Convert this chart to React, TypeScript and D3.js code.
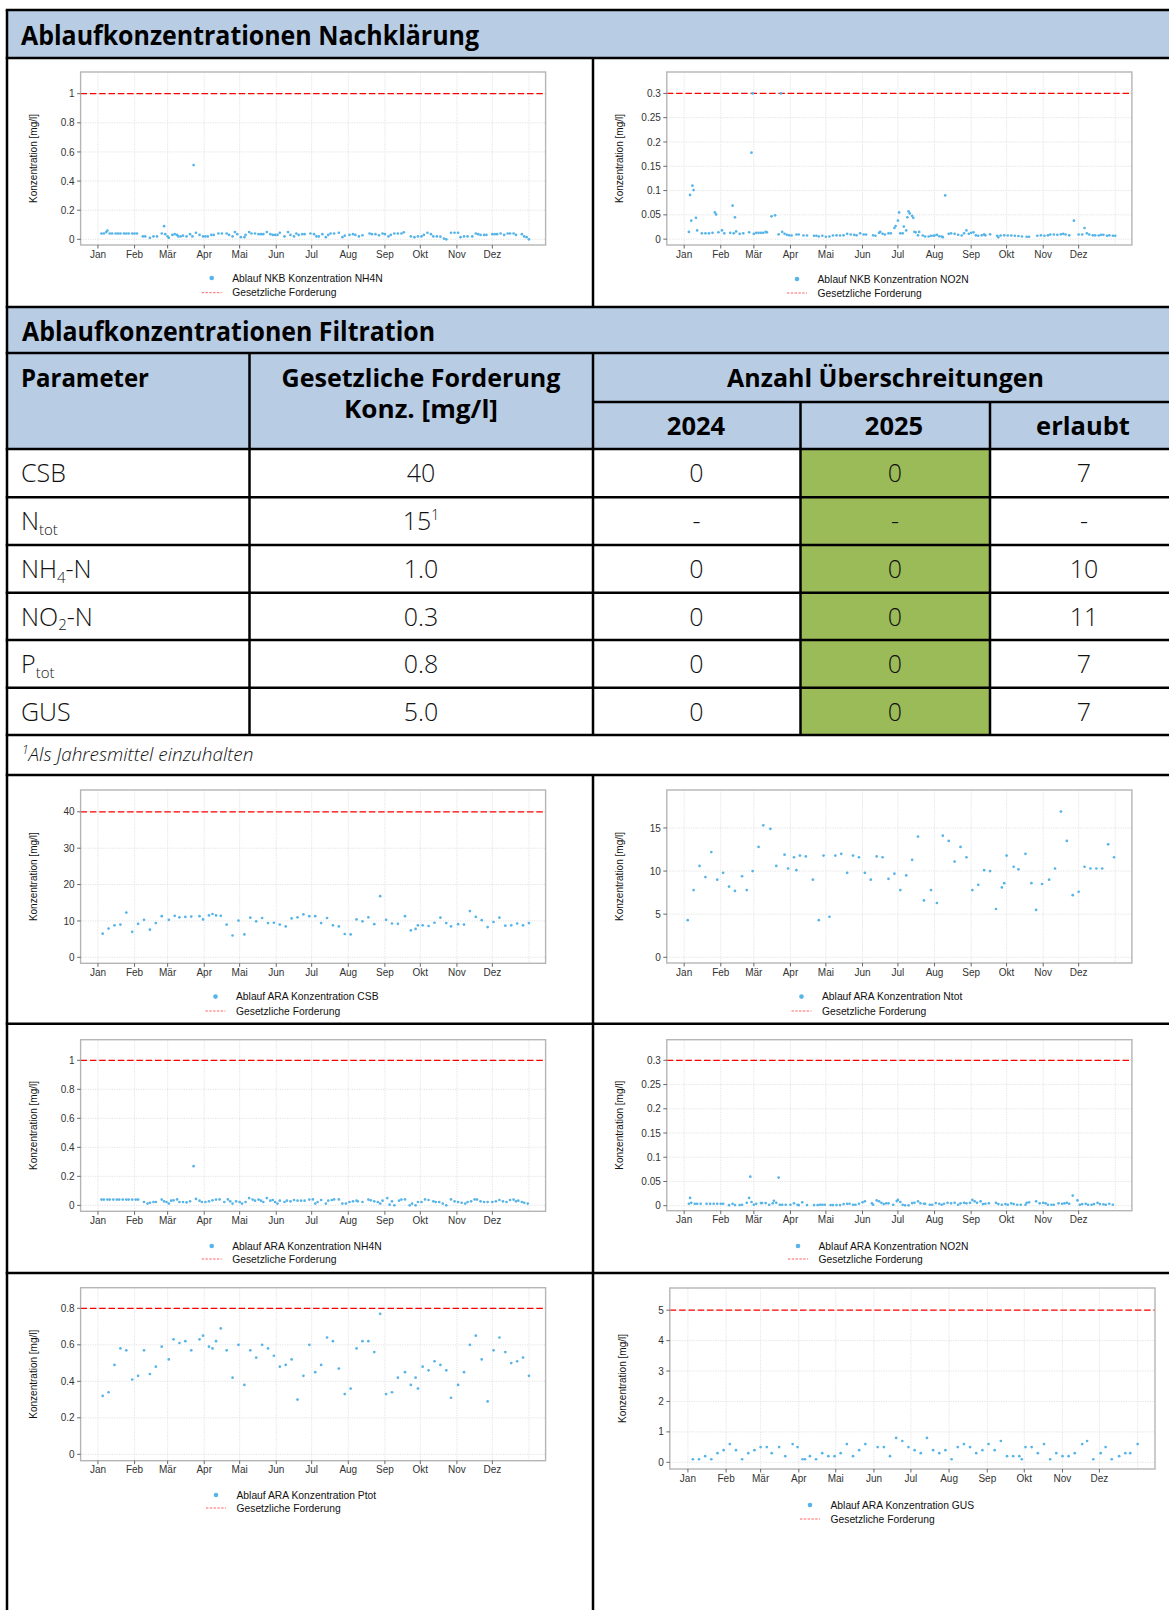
import React from "react";
import * as d3 from "d3";

// ---------- DATA ----------
const monthLabels = ["Jan", "Feb", "Mär", "Apr", "Mai", "Jun", "Jul", "Aug", "Sep", "Okt", "Nov", "Dez"];

// [day of year 2025 (0 = 1 Jan), concentration mg/l]
const nkbNH4: [number, number][] = [
  [3,0.04],[5,0.04],[7,0.05],[8,0.06],[10,0.04],[12,0.04],[15,0.04],[17,0.04],[19,0.04],[22,0.04],[24,0.04],[26,0.04],[29,0.04],[31,0.04],[33,0.04],
  [38,0.02],[40,0.02],[44,0.01],[47,0.02],[50,0.02],[54,0.04],[56,0.09],[57,0.035],[59,0.02],[60,0.01],[63,0.03],[65,0.035],[67,0.03],[68,0.02],
  [70,0.02],[72,0.025],[75,0.02],[78,0.035],[80,0.02],[81,0.51],[83,0.045],[86,0.03],[89,0.02],[91,0.02],[93,0.02],[96,0.03],[98,0.03],[102,0.04],
  [105,0.04],[109,0.04],[111,0.03],[114,0.02],[116,0.05],[118,0.035],[121,0.015],[124,0.015],[125,0.03],[128,0.05],[130,0.04],[133,0.04],[136,0.035],
  [138,0.035],[140,0.035],[143,0.05],[146,0.035],[148,0.03],[150,0.03],[152,0.03],[154,0.045],[158,0.02],[161,0.05],[163,0.03],[166,0.02],[168,0.04],
  [170,0.03],[173,0.035],[175,0.035],[180,0.04],[183,0.035],[185,0.02],[187,0.02],[190,0.035],[193,0.015],[195,0.03],[197,0.04],[200,0.04],[204,0.045],
  [207,0.015],[209,0.025],[213,0.03],[216,0.035],[218,0.03],[221,0.02],[224,0.028],[230,0.04],[232,0.035],[235,0.035],[238,0.028],[241,0.04],[243,0.035],
  [246,0.02],[248,0.03],[251,0.04],[254,0.04],[257,0.04],[259,0.048],[265,0.02],[268,0.015],[271,0.02],[274,0.02],[276,0.03],[279,0.045],[282,0.035],
  [284,0.02],[287,0.02],[290,0.018],[293,0.005],[295,0],[299,0.045],[302,0.045],[305,0.045],[307,0.015],[310,0.02],[313,0.02],[317,0.02],[320,0.04],
  [322,0.035],[324,0.03],[327,0.03],[329,0.03],[334,0.035],[336,0.035],[338,0.035],[341,0.04],[344,0.03],[347,0.04],[349,0.04],[352,0.04],[354,0.03],
  [359,0.035],[361,0.02],[363,0.015],[365,0],
];

const nkbNO2: [number, number][] = [
  [4,0.015],[5,0.091],[6,0.038],[7,0.11],[8,0.101],[10,0.044],[11,0.018],[15,0.012],[18,0.012],[21,0.012],[24,0.013],[26,0.055],[27,0.051],[29,0.014],
  [32,0.018],[34,0.012],[39,0.013],[41,0.069],[42,0.012],[43,0.045],[44,0.016],[47,0.011],[50,0.012],[55,0.014],[57,0.178],[58,0.3],[59,0.011],[61,0.013],
  [63,0.013],[65,0.013],[67,0.013],[69,0.015],[70,0.014],[74,0.047],[77,0.049],[80,0.01],[82,0.3],[83,0.015],[85,0.011],[87,0.009],[89,0.008],[91,0.0075],
  [95,0.0096],[97,0.0096],[101,0.0075],[104,0.0075],[110,0.007],[112,0.007],[114,0.0055],[117,0.007],[120,0.005],[123,0.0055],[126,0.0075],[129,0.008],
  [132,0.0075],[135,0.008],[138,0.011],[141,0.0096],[144,0.009],[146,0.008],[149,0.012],[152,0.0096],[154,0.0096],[160,0.008],[162,0.007],[165,0.013],
  [166,0.015],[168,0.011],[170,0.0096],[173,0.012],[175,0.012],[178,0.023],[179,0.027],[181,0.038],[182,0.055],[183,0.012],[185,0.012],[186,0.026],
  [188,0.018],[189,0.045],[190,0.057],[191,0.053],[193,0.048],[194,0.044],[195,0.015],[196,0.014],[198,0.008],[199,0.015],[202,0.0075],[204,0.0055],
  [207,0.0055],[209,0.007],[211,0.007],[212,0.0075],[214,0.009],[216,0.006],[218,0.0055],[219,0.004],[221,0.09],[224,0.011],[226,0.012],[229,0.011],
  [232,0.009],[235,0.0075],[237,0.012],[239,0.018],[241,0.011],[243,0.013],[245,0.014],[247,0.008],[249,0.007],[252,0.008],[254,0.01],[255,0.008],
  [259,0.01],[265,0.007],[266,0.004],[268,0.0075],[271,0.008],[274,0.0075],[277,0.0075],[280,0.007],[283,0.0065],[286,0.0055],[290,0.005],[292,0.005],
  [299,0.007],[302,0.008],[305,0.007],[308,0.008],[310,0.0096],[313,0.0096],[316,0.009],[319,0.01],[321,0.011],[323,0.0096],[326,0.008],[330,0.038],
  [334,0.0096],[337,0.0096],[339,0.023],[341,0.012],[343,0.0096],[346,0.008],[348,0.008],[351,0.0075],[353,0.009],[355,0.009],[358,0.007],[360,0.008],
  [363,0.007],[365,0.007],
];

const araCSB: [number, number][] = [
  [4,6.5],[9,7.9],[14,8.8],[19,9.0],[24,12.3],[29,7.0],[34,9.2],[39,10.3],[44,7.6],[49,9.4],[54,11.3],[60,10.3],[65,11.4],[69,11.0],[74,11.1],[79,11.2],
  [86,11.3],[89,10.4],[94,11.5],[97,11.9],[100,11.5],[104,11.4],[109,9.0],[114,6.0],[119,10.1],[124,6.3],[129,10.9],[134,9.9],[139,10.8],[144,9.4],
  [149,9.5],[154,9.0],[159,8.5],[164,10.7],[169,11.0],[174,11.8],[179,11.3],[184,11.3],[189,9.4],[194,10.8],[199,8.8],[204,8.5],[209,6.4],[214,6.3],
  [219,10.4],[224,9.9],[229,11.0],[234,9.1],[239,16.8],[244,10.3],[249,9.3],[254,9.2],[260,11.3],[265,7.4],[269,7.8],[271,8.8],[275,8.8],[280,8.6],
  [285,9.5],[290,10.9],[295,9.4],[299,8.5],[305,9.1],[310,9.0],[315,12.7],[320,11.1],[325,10.2],[330,8.3],[335,9.7],[340,10.9],[345,8.7],[350,8.8],
  [355,9.3],[360,8.8],[365,9.4],
];

const araNtot: [number, number][] = [
  [3,4.3],[8,7.8],[13,10.6],[18,9.3],[23,12.2],[28,9.0],[33,9.8],[38,8.2],[43,7.7],[49,9.4],[53,7.8],[58,10.0],[63,12.8],[67,15.3],[73,14.9],[78,10.6],
  [85,11.9],[88,10.3],[93,11.6],[95,10.1],[98,11.8],[103,11.7],[109,9.0],[114,4.3],[118,11.8],[123,4.7],[128,11.8],[133,12.0],[138,9.8],[143,11.8],
  [148,11.6],[153,9.8],[158,9.0],[163,11.7],[168,11.6],[173,9.1],[178,9.7],[183,7.8],[188,9.5],[193,11.3],[198,14.0],[203,6.6],[209,7.8],[214,6.3],
  [219,14.1],[224,13.5],[229,11.1],[234,12.8],[239,11.6],[244,7.8],[249,8.4],[254,10.1],[259,10.0],[264,5.6],[269,8.1],[271,8.6],[273,11.8],[279,10.5],
  [283,10.2],[289,12.0],[294,8.6],[298,5.5],[303,8.5],[309,9.0],[314,10.3],[319,16.9],[324,13.5],[329,7.2],[334,7.6],[339,10.5],[344,10.3],[349,10.3],
  [354,10.3],[359,13.1],[364,11.6],
];

const araNH4: [number, number][] = [
  [3,0.04],[5,0.04],[8,0.04],[10,0.04],[13,0.04],[16,0.04],[18,0.04],[21,0.04],[24,0.04],[26,0.04],[29,0.04],[32,0.04],[34,0.04],
  [39,0.023],[42,0.012],[44,0.018],[47,0.023],[49,0.023],[54,0.04],[56,0.028],[58,0.023],[60,0.012],[62,0.032],[64,0.035],[67,0.041],[69,0.023],
  [72,0.023],[75,0.02],[78,0.028],[81,0.27],[83,0.044],[86,0.032],[88,0.023],[91,0.023],[94,0.028],[97,0.035],[100,0.04],[103,0.041],[107,0.023],
  [110,0.041],[112,0.028],[114,0.012],[117,0.028],[120,0.023],[122,0.012],[125,0.023],[128,0.05],[131,0.04],[133,0.032],[136,0.04],[138,0.032],
  [140,0.023],[143,0.05],[146,0.032],[148,0.037],[150,0.023],[152,0.012],[154,0.032],[158,0.023],[160,0.032],[163,0.028],[166,0.037],[169,0.032],
  [172,0.032],[175,0.032],[179,0.04],[182,0.041],[184,0.012],[186,0.023],[189,0.037],[193,0.012],[195,0.032],[198,0.037],[200,0.041],[204,0.041],
  [207,0.012],[210,0.012],[213,0.023],[216,0.028],[219,0.032],[220,0.028],[224,0.023],[229,0.04],[231,0.035],[234,0.028],[237,0.023],[239,0.012],
  [241,0.032],[245,0.05],[247,0.005],[249,0.028],[251,0],[255,0.032],[257,0.04],[260,0.041],[264,0],[266,0.012],[269,0],[271,0.023],[274,0.023],
  [277,0.041],[280,0.037],[284,0.028],[286,0.023],[289,0.023],[292,0.012],[295,0],[299,0.041],[302,0.028],[305,0.023],[308,0.018],[311,0.012],
  [313,0.023],[316,0.028],[319,0.041],[321,0.04],[324,0.028],[327,0.023],[330,0.023],[334,0.023],[337,0.028],[340,0.037],[343,0.028],[346,0.023],
  [349,0.037],[352,0.04],[354,0.028],[356,0.032],[359,0.023],[361,0.018],[364,0.012],
];

const araNO2: [number, number][] = [
  [4,0.004],[5,0.016],[6,0.006],[9,0.004],[11,0.004],[14,0.004],[19,0.004],[22,0.004],[25,0.004],[28,0.004],[31,0.004],[33,0.004],[38,0.001],[41,0.004],
  [43,0.0014],[47,0.0014],[49,0.002],[53,0.006],[55,0.016],[56,0.06],[57,0.0076],[59,0.002],[61,0.004],[65,0.0055],[66,0.0055],[69,0.0055],[72,0.002],
  [75,0.005],[76,0.01],[78,0.006],[80,0.058],[81,0.002],[83,0.002],[86,0.002],[90,0.002],[93,0.005],[96,0.002],[97,0.001],[100,0.007],[104,0.0014],
  [110,0.0014],[113,0.0014],[115,0.002],[117,0.002],[119,0.002],[124,0.0014],[126,0.0014],[129,0.0014],[132,0.0014],[135,0.0034],[138,0.004],[140,0.004],
  [143,0.002],[145,0.002],[148,0.004],[151,0.007],[153,0.009],[159,0.005],[160,0.002],[163,0.011],[165,0.009],[167,0.006],[169,0.0034],[171,0.005],
  [173,0.005],[177,0.002],[180,0.0096],[181,0.012],[183,0.0076],[185,0.002],[187,0.0007],[190,0.0007],[193,0.0055],[195,0.006],[198,0.009],[200,0.005],
  [203,0.004],[204,0.004],[208,0.002],[210,0.002],[213,0.0055],[216,0.004],[218,0.002],[220,0.004],[223,0.006],[226,0.005],[229,0.006],[232,0.002],
  [234,0.005],[237,0.006],[239,0.005],[242,0.006],[244,0.012],[246,0.009],[248,0.006],[251,0.009],[253,0.0034],[255,0.004],[258,0.005],[264,0.006],
  [266,0.0034],[269,0.002],[272,0.0034],[274,0.002],[277,0.005],[279,0.0034],[282,0.002],[285,0.002],[289,0.002],[290,0.006],[292,0.007],[298,0.009],
  [301,0.005],[304,0.006],[306,0.005],[308,0.002],[311,0.002],[313,0.002],[317,0.005],[320,0.004],[322,0.005],[324,0.006],[326,0.004],[329,0.021],
  [333,0.011],[335,0.002],[337,0.0034],[340,0.004],[342,0.002],[345,0.002],[347,0.0034],[350,0.006],[352,0.0034],[355,0.003],[357,0.002],[360,0.004],
  [363,0.002],
];

const araPtot: [number, number][] = [
  [4,0.32],[9,0.34],[14,0.49],[19,0.58],[24,0.57],[29,0.41],[34,0.43],[39,0.57],[44,0.44],[49,0.48],[54,0.59],[60,0.52],[64,0.63],[69,0.61],[74,0.62],
  [79,0.57],[86,0.63],[89,0.65],[94,0.59],[97,0.58],[100,0.62],[104,0.69],[109,0.57],[114,0.42],[119,0.60],[124,0.38],[129,0.57],[134,0.53],[139,0.60],
  [144,0.58],[149,0.54],[154,0.48],[159,0.49],[164,0.52],[169,0.30],[174,0.43],[179,0.60],[184,0.45],[189,0.49],[194,0.64],[199,0.62],[204,0.47],
  [209,0.33],[214,0.36],[219,0.58],[224,0.62],[229,0.62],[234,0.56],[239,0.77],[244,0.33],[249,0.34],[254,0.42],[260,0.45],[265,0.38],[269,0.42],
  [271,0.36],[275,0.48],[280,0.46],[285,0.51],[290,0.49],[295,0.46],[299,0.31],[305,0.38],[310,0.45],[315,0.60],[320,0.65],[325,0.52],[330,0.29],
  [335,0.57],[340,0.64],[345,0.56],[350,0.50],[355,0.51],[360,0.53],[365,0.43],
];

const araGUS: [number, number][] = [
  [4,0.1],[9,0.1],[14,0.2],[19,0.1],[24,0.3],[29,0.4],[34,0.6],[39,0.4],[44,0.1],[49,0.3],[54,0.4],[59,0.5],[64,0.5],[68,0.3],[74,0.5],[79,0.2],
  [85,0.6],[89,0.5],[93,0.1],[95,0.1],[99,0.2],[104,0.1],[109,0.3],[114,0.2],[119,0.2],[124,0.3],[129,0.6],[134,0.2],[139,0.4],[144,0.6],[154,0.5],
  [159,0.5],[164,0.2],[169,0.8],[174,0.7],[179,0.5],[184,0.4],[189,0.3],[194,0.8],[199,0.4],[204,0.3],[209,0.4],[214,0.1],[219,0.5],[224,0.6],[229,0.5],
  [234,0.3],[239,0.4],[244,0.6],[249,0.4],[254,0.7],[259,0.2],[264,0.2],[269,0.2],[271,0.1],[274,0.5],[279,0.5],[284,0.3],[289,0.6],[294,0.1],[299,0.3],
  [304,0.2],[309,0.2],[314,0.3],[320,0.6],[324,0.7],[329,0.1],[335,0.3],[339,0.5],[344,0.1],[350,0.2],[355,0.3],[359,0.3],[365,0.6],
];

const ticksNH4 = [0, 0.2, 0.4, 0.6, 0.8, 1];
const ticksNO2 = [0, 0.05, 0.1, 0.15, 0.2, 0.25, 0.3];
const ticksCSB = [0, 10, 20, 30, 40];
const ticksNtot = [0, 5, 10, 15];
const ticksPtot = [0, 0.2, 0.4, 0.6, 0.8];
const ticksGUS = [0, 1, 2, 3, 4, 5];

// table
const paramMain = ["CSB", "N", "NH", "NO", "P", "GUS"];
const paramSub = ["", "tot", "4", "2", "tot", ""];
const paramRest = ["", "", "-N", "-N", "", ""];
const limitText = ["40", "15", "1.0", "0.3", "0.8", "5.0"];
const limitSup = ["", "1", "", "", "", ""];
const exceed2024 = ["0", "-", "0", "0", "0", "0"];
const exceed2025 = ["0", "-", "0", "0", "0", "0"];
const allowed = ["7", "-", "10", "11", "7", "7"];

// ---------- STYLE ----------
const BAND = "#B8CCE4";
const GREEN = "#9BBB59";
const PT = "#56B4E9";
const TFONT = "'Open Sans', 'Noto Sans', sans-serif";
const CFONT = "'Liberation Sans', Arial, sans-serif";

type Spec = {
  data: [number, number][];
  panel: { x0: number; x1: number; y0: number; y1: number };
  yDomain: [number, number];
  yTicks: number[];
  threshold: number | null;
  label: string;
  keyX: number;
  ly1: number;
  ly2: number;
};

const JAN1 = new Date(2025, 0, 1).getTime();
const DAY = 864e5;
const toDate = (d: number) => new Date(JAN1 + d * DAY);

function Chart({ s }: { s: Spec }) {
  const { x0, x1, y0, y1 } = s.panel;
  const x = d3.scaleTime().domain([toDate(-14.7), toDate(379.1)]).range([x0, x1]);
  const y = d3.scaleLinear().domain(s.yDomain).range([y1, y0]);
  const months = d3.timeMonth.range(new Date(2025, 0, 1), new Date(2026, 0, 2));
  const fmt = (v: number) => String(+v.toFixed(2));
  return (
    <g>
      <rect x={x0} y={y0} width={x1 - x0} height={y1 - y0} fill="#fff" />
      {months.map((m, i) => (
        <line key={"gv" + i} x1={x(m)} x2={x(m)} y1={y0} y2={y1} stroke="#DCDCDC" strokeWidth={0.8} strokeDasharray="1.2,1.2" />
      ))}
      {s.yTicks.map((t, i) => (
        <line key={"gh" + i} x1={x0} x2={x1} y1={y(t)} y2={y(t)} stroke="#DCDCDC" strokeWidth={0.8} strokeDasharray="1.2,1.2" />
      ))}
      {s.threshold !== null && (
        <line x1={x0} x2={x1} y1={y(s.threshold)} y2={y(s.threshold)} stroke="#FF0000" strokeWidth={1.3} strokeDasharray="6.5,2.8" />
      )}
      {s.data.map((d, i) => (
        <circle key={"p" + i} cx={x(toDate(d[0]))} cy={y(d[1])} r={1.35} fill={PT} />
      ))}
      <rect x={x0} y={y0} width={x1 - x0} height={y1 - y0} fill="none" stroke="#B5B5B5" strokeWidth={1.4} />
      {/* y axis */}
      {s.yTicks.map((t, i) => (
        <g key={"yt" + i}>
          <line x1={x0 - 3.5} x2={x0} y1={y(t)} y2={y(t)} stroke="#444" strokeWidth={0.8} />
          <text x={x0 - 6} y={y(t) + 3.6} textAnchor="end" fontFamily={CFONT} fontSize={10} fill="#333">
            {fmt(t)}
          </text>
        </g>
      ))}
      <text
        transform={`translate(${x0 - 44},${(y0 + y1) / 2}) rotate(-90)`}
        textAnchor="middle"
        fontFamily={CFONT}
        fontSize={10}
        fill="#111"
      >
        Konzentration [mg/l]
      </text>
      {/* x axis */}
      {months.slice(0, 12).map((m, i) => (
        <g key={"xt" + i}>
          <line x1={x(m)} x2={x(m)} y1={y1} y2={y1 + 3.5} stroke="#444" strokeWidth={0.8} />
          <text x={x(m)} y={y1 + 12.5} textAnchor="middle" fontFamily={CFONT} fontSize={10} fill="#333">
            {monthLabels[i]}
          </text>
        </g>
      ))}
      {/* legend */}
      <circle cx={s.keyX + 10} cy={s.ly1} r={2.3} fill={PT} />
      <text x={s.keyX + 30.5} y={s.ly1 + 3.6} fontFamily={CFONT} fontSize={10.3} fill="#111">
        {s.label}
      </text>
      <line x1={s.keyX} x2={s.keyX + 20} y1={s.ly2} y2={s.ly2} stroke="#FF5050" strokeWidth={0.9} strokeDasharray="2.4,1.4" />
      <text x={s.keyX + 30.5} y={s.ly2 + 3.6} fontFamily={CFONT} fontSize={10.3} fill="#111">
        Gesetzliche Forderung
      </text>
    </g>
  );
}

const L = { x0: 80.6, x1: 545.6 };
const R = { x0: 666.8, x1: 1131.9 };

const specs: Spec[] = [
  { data: nkbNH4, panel: { ...L, y0: 72, y1: 245 }, yDomain: [-0.039, 1.149], yTicks: ticksNH4, threshold: 1, label: "Ablauf NKB Konzentration NH4N", keyX: 201.7, ly1: 278, ly2: 292.7 },
  { data: nkbNO2, panel: { ...R, y0: 72, y1: 245 }, yDomain: [-0.012, 0.344], yTicks: ticksNO2, threshold: 0.3, label: "Ablauf NKB Konzentration NO2N", keyX: 787, ly1: 279, ly2: 293 },
  { data: araCSB, panel: { ...L, y0: 790, y1: 963.3 }, yDomain: [-1.65, 46], yTicks: ticksCSB, threshold: 40, label: "Ablauf ARA Konzentration CSB", keyX: 205.5, ly1: 996.6, ly2: 1011 },
  { data: araNtot, panel: { ...R, y0: 790, y1: 963 }, yDomain: [-0.66, 19.4], yTicks: ticksNtot, threshold: null, label: "Ablauf ARA Konzentration Ntot", keyX: 791.5, ly1: 996.6, ly2: 1011 },
  { data: araNH4, panel: { ...L, y0: 1039.7, y1: 1211.3 }, yDomain: [-0.041, 1.142], yTicks: ticksNH4, threshold: 1, label: "Ablauf ARA Konzentration NH4N", keyX: 201.7, ly1: 1246, ly2: 1259 },
  { data: araNO2, panel: { ...R, y0: 1039.7, y1: 1210.7 }, yDomain: [-0.0103, 0.3425], yTicks: ticksNO2, threshold: 0.3, label: "Ablauf ARA Konzentration NO2N", keyX: 788, ly1: 1246, ly2: 1259 },
  { data: araPtot, panel: { ...L, y0: 1287.7, y1: 1460.7 }, yDomain: [-0.035, 0.913], yTicks: ticksPtot, threshold: 0.8, label: "Ablauf ARA Konzentration Ptot", keyX: 206, ly1: 1495, ly2: 1508 },
  { data: araGUS, panel: { x0: 669.8, x1: 1155, y0: 1288, y1: 1469 }, yDomain: [-0.22, 5.73], yTicks: ticksGUS, threshold: 5, label: "Ablauf ARA Konzentration GUS", keyX: 800, ly1: 1505, ly2: 1519 },
];

// table geometry
const LX = 7;
const RX = 1169;
const colX = [7, 249.5, 593, 800.5, 990];
const rowY = [449, 497.3, 545, 592.7, 640, 687.7, 735];
const colCenter = [421, 696.5, 895, 1084];

export default function App() {
  const bodyStyle = { fontFamily: TFONT, fontWeight: 300, fontSize: 25, fill: "#111" } as const;
  const headStyle = { fontFamily: TFONT, fontWeight: 700, fontSize: 25.5, fill: "#000" } as const;
  const LW = 2.5;
  return (
    <svg width={1169} height={1610} style={{ position: "absolute", left: 0, top: 0, display: "block", background: "#fff" }}>
      {/* bands */}
      <rect x={LX} y={10} width={RX - LX} height={48} fill={BAND} />
      <rect x={LX} y={307} width={RX - LX} height={46} fill={BAND} />
      <rect x={LX} y={353} width={RX - LX} height={96} fill={BAND} />
      <rect x={colX[3]} y={rowY[0]} width={colX[4] - colX[3]} height={rowY[6] - rowY[0]} fill={GREEN} />

      {/* section titles */}
      <text x={21} y={44.5} {...headStyle} fontSize={26} textLength={458} lengthAdjust="spacingAndGlyphs">
        Ablaufkonzentrationen Nachklärung
      </text>
      <text x={22} y={340.5} {...headStyle} fontSize={26} textLength={413} lengthAdjust="spacingAndGlyphs">
        Ablaufkonzentrationen Filtration
      </text>

      {/* table header */}
      <text x={21} y={387} {...headStyle} textLength={128} lengthAdjust="spacingAndGlyphs">Parameter</text>
      <text x={421} y={387} textAnchor="middle" {...headStyle} textLength={279} lengthAdjust="spacingAndGlyphs">Gesetzliche Forderung</text>
      <text x={421} y={418} textAnchor="middle" {...headStyle} textLength={154} lengthAdjust="spacingAndGlyphs">Konz. [mg/l]</text>
      <text x={885.5} y={387} textAnchor="middle" {...headStyle} textLength={317} lengthAdjust="spacingAndGlyphs">Anzahl Überschreitungen</text>
      <text x={696} y={435} textAnchor="middle" {...headStyle}>2024</text>
      <text x={894} y={435} textAnchor="middle" {...headStyle}>2025</text>
      <text x={1083} y={435} textAnchor="middle" {...headStyle}>erlaubt</text>

      {/* table body */}
      {paramMain.map((p, i) => {
        const base = rowY[i] + 33;
        return (
          <g key={"row" + i}>
            <text x={21} y={base} {...bodyStyle}>
              {p}
              {paramSub[i] && (
                <tspan fontSize={15} dy={4.5}>{paramSub[i]}</tspan>
              )}
              {paramRest[i] && (
                <tspan dy={-4.5}>{paramRest[i]}</tspan>
              )}
            </text>
            <text x={colCenter[0]} y={base} textAnchor="middle" {...bodyStyle}>
              {limitText[i]}
              {limitSup[i] && (
                <tspan fontSize={14} dy={-10}>{limitSup[i]}</tspan>
              )}
            </text>
            <text x={colCenter[1]} y={base} textAnchor="middle" {...bodyStyle}>{exceed2024[i]}</text>
            <text x={colCenter[2]} y={base} textAnchor="middle" {...bodyStyle}>{exceed2025[i]}</text>
            <text x={colCenter[3]} y={base} textAnchor="middle" {...bodyStyle}>{allowed[i]}</text>
          </g>
        );
      })}

      {/* footnote */}
      <text x={22} y={761} fontFamily={TFONT} fontWeight={300} fontStyle="italic" fontSize={19} fill="#111">
        <tspan fontSize={12} dy={-7}>1</tspan>
        <tspan dy={7}>Als Jahresmittel einzuhalten</tspan>
      </text>

      {/* charts */}
      {specs.map((s, i) => (
        <Chart key={"c" + i} s={s} />
      ))}

      {/* grid lines of the page table */}
      {[10, 58, 307, 353, ...rowY, 775, 1023.7, 1273].map((yy, i) => (
        <line key={"h" + i} x1={LX - 1.25} x2={RX} y1={yy} y2={yy} stroke="#000" strokeWidth={LW} />
      ))}
      <line x1={colX[2]} x2={RX} y1={402} y2={402} stroke="#000" strokeWidth={LW} />
      <line x1={LX} x2={LX} y1={10} y2={1610} stroke="#000" strokeWidth={LW} />
      <line x1={colX[2]} x2={colX[2]} y1={58} y2={307} stroke="#000" strokeWidth={LW} />
      <line x1={colX[1]} x2={colX[1]} y1={353} y2={735} stroke="#000" strokeWidth={LW} />
      <line x1={colX[2]} x2={colX[2]} y1={353} y2={735} stroke="#000" strokeWidth={LW} />
      <line x1={colX[3]} x2={colX[3]} y1={402} y2={735} stroke="#000" strokeWidth={LW} />
      <line x1={colX[4]} x2={colX[4]} y1={402} y2={735} stroke="#000" strokeWidth={LW} />
      <line x1={colX[2]} x2={colX[2]} y1={775} y2={1610} stroke="#000" strokeWidth={LW} />
    </svg>
  );
}
